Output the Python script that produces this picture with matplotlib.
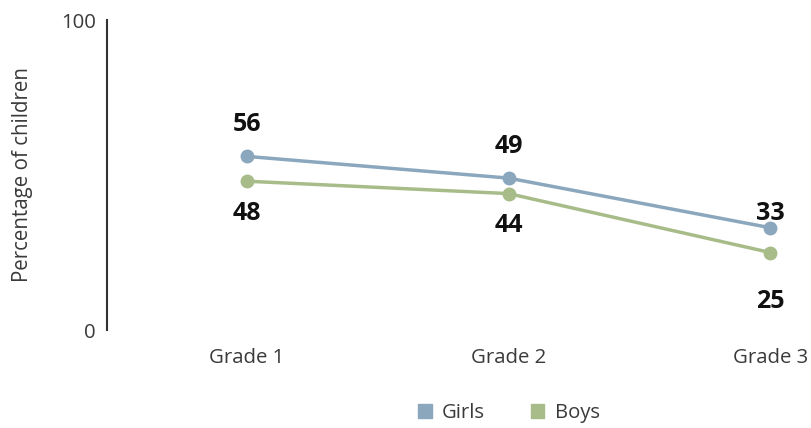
import matplotlib.pyplot as plt

plt.rcParams['font.family'] = ['Open Sans', 'DejaVu Sans']

grades = ['Grade 1', 'Grade 2', 'Grade 3']
girls = [56, 49, 33]
boys = [48, 44, 25]

girls_color = '#8ba7bd'
boys_color = '#a8bc8a'

fig = plt.figure(figsize=(8.12, 4.28), dpi=100)
# axes box in pixels: x 107..812, y 20..330 (from top)
ax = fig.add_axes([107 / 812, (428 - 330) / 428, (812 - 107) / 812, 310 / 428])

x = list(range(len(grades)))
ax.plot(x, girls, color=girls_color, lw=2.5, marker='o', ms=9, label='Girls')
ax.plot(x, boys, color=boys_color, lw=2.5, marker='o', ms=9, label='Boys')

# label offsets in pixels (up is positive)
girls_off = [32, 32, 14]
boys_off = [-32, -32, -49]
for i in x:
    ax.annotate(str(girls[i]), (i, girls[i]), xytext=(0, girls_off[i] * 0.72),
                textcoords='offset points', ha='center', va='center',
                fontsize=18, fontweight='bold', color='#111111')
    ax.annotate(str(boys[i]), (i, boys[i]), xytext=(0, boys_off[i] * 0.72),
                textcoords='offset points', ha='center', va='center',
                fontsize=18, fontweight='bold', color='#111111')

ax.set_xlim(-0.535, 2.16)
ax.set_ylim(0, 100)
ax.set_xticks(x)
ax.set_xticklabels(grades)
ax.set_yticks([0, 100])
ax.tick_params(length=0, labelsize=14.7, labelcolor='#3a3a3a')
ax.tick_params(axis='x', pad=13)
ax.tick_params(axis='y', pad=8)
for s in ['top', 'right', 'bottom']:
    ax.spines[s].set_visible(False)
ax.spines['left'].set_color('#333333')
ax.spines['left'].set_linewidth(1.5)
ax.set_ylabel('Percentage of children', fontsize=14.8, color='#3a3a3a', labelpad=20)

handles = [plt.Rectangle((0, 0), 1, 1, color=girls_color),
           plt.Rectangle((0, 0), 1, 1, color=boys_color)]
fig.legend(handles, ['Girls', 'Boys'], loc='center', bbox_to_anchor=(509 / 812, 1 - 413 / 428),
           ncol=2, frameon=False, fontsize=14.6, handlelength=0.65, handleheight=0.65,
           handletextpad=0.5, columnspacing=2.3, labelcolor='#3a3a3a')

fig.savefig('out.png', dpi=100)
